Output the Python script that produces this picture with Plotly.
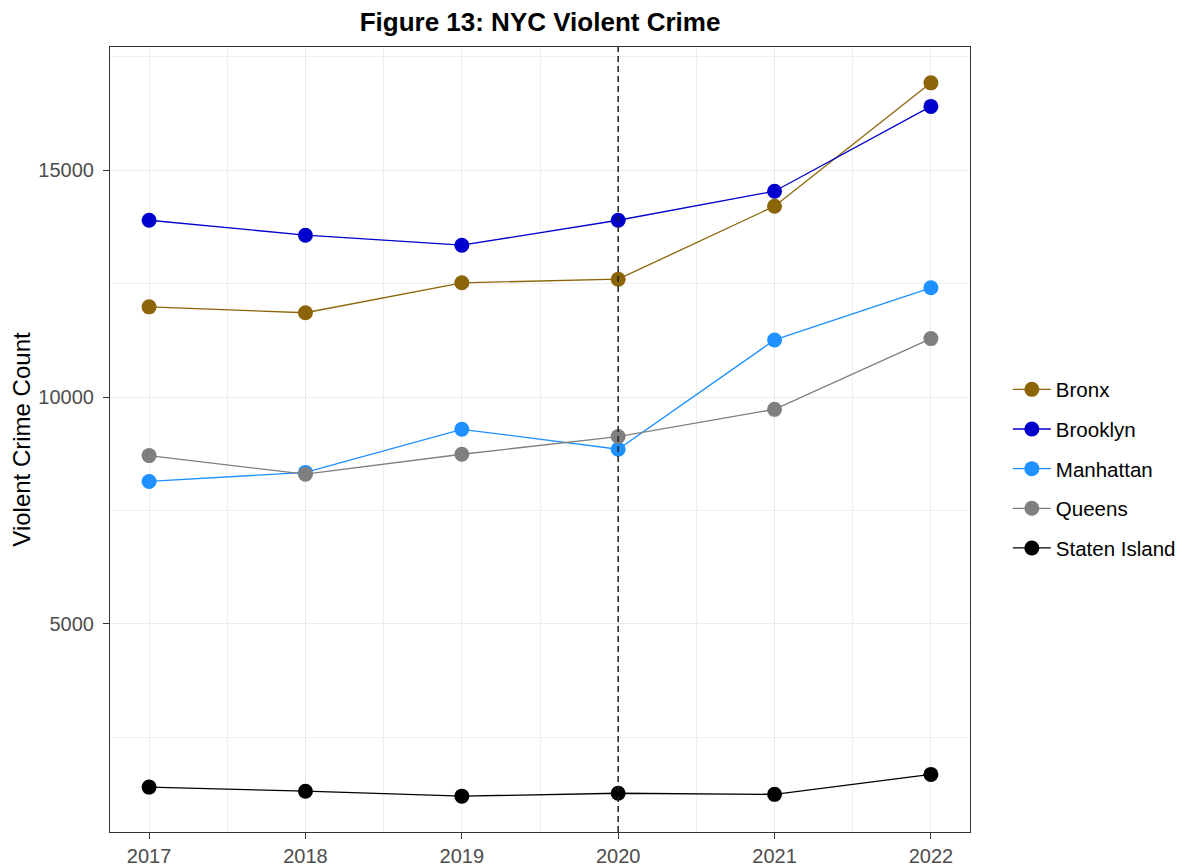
import plotly.graph_objects as go

years = [2017, 2018, 2019, 2020, 2021, 2022]
boroughs = ["Bronx", "Brooklyn", "Manhattan", "Queens", "Staten Island"]
bronx = [11990, 11860, 12520, 12600, 14210, 16930]
brooklyn = [13900, 13570, 13350, 13900, 14540, 16410]
manhattan = [8140, 8340, 9290, 8850, 11260, 12410]
queens = [8710, 8300, 8740, 9130, 9730, 11290]
staten_island = [1400, 1310, 1200, 1265, 1240, 1680]
colors = ["#8B6508", "#0000CD", "#1E90FF", "#7F7F7F", "#000000"]
y_ticks = [5000, 10000, 15000]
covid_year = 2020

series = [bronx, brooklyn, manhattan, queens, staten_island]

FONT = "Arial, Liberation Sans, sans-serif"

fig = go.Figure()
for name, vals, col in zip(boroughs, series, colors):
    fig.add_trace(go.Scatter(
        x=years, y=vals, name=name, mode="lines+markers",
        line=dict(color=col, width=1.3),
        marker=dict(color=col, size=15),
        legendgroup=name,
    ))

fig.add_shape(type="line", x0=covid_year, x1=covid_year, y0=0, y1=1,
              xref="x", yref="paper", layer="above",
              line=dict(color="#222222", width=1.5, dash="6px,4px"))

axis_common = dict(
    showline=True, linecolor="#333333", linewidth=1.2, mirror=True,
    ticks="outside", ticklen=6, tickcolor="#333333", tickwidth=1.2,
    tickfont=dict(family=FONT, size=20, color="#4D4D4D"),
    showgrid=True, gridcolor="#EBEBEB", gridwidth=1.2, zeroline=False,
    automargin=False,
)

fig.update_xaxes(range=[2016.75, 2022.25], tickvals=years, ticktext=[str(y) for y in years],
                 minor=dict(dtick=0.5, tick0=2016.5, showgrid=True, gridcolor="#EFEFEF", gridwidth=0.7),
                 **axis_common)
fig.update_yaxes(range=[410, 17720], tickvals=y_ticks, ticktext=[str(v) for v in y_ticks],
                 ticklabelstandoff=5,
                 minor=dict(dtick=2500, tick0=0, showgrid=True, gridcolor="#EFEFEF", gridwidth=0.7),
                 title=dict(text="Violent Crime Count", font=dict(family=FONT, size=24, color="#000000"), standoff=3),
                 **axis_common)

W, H = 1186, 867
fig.update_layout(
    width=W, height=H,
    margin=dict(l=102, r=224, t=39, b=43),
    paper_bgcolor="white", plot_bgcolor="white",
    title=dict(text="<b>Figure 13: NYC Violent Crime</b>", x=532 / W, xanchor="center",
               y=1 - 14 / H, yanchor="middle",
               font=dict(family=FONT, size=26, color="#000000")),
    legend=dict(x=1.044, y=0.4624, xanchor="left", yanchor="middle",
                font=dict(family=FONT, size=20.5, color="#000000"),
                tracegroupgap=10, itemwidth=38, bgcolor="rgba(0,0,0,0)"),
    showlegend=True,
)

fig.write_html("out.html")
